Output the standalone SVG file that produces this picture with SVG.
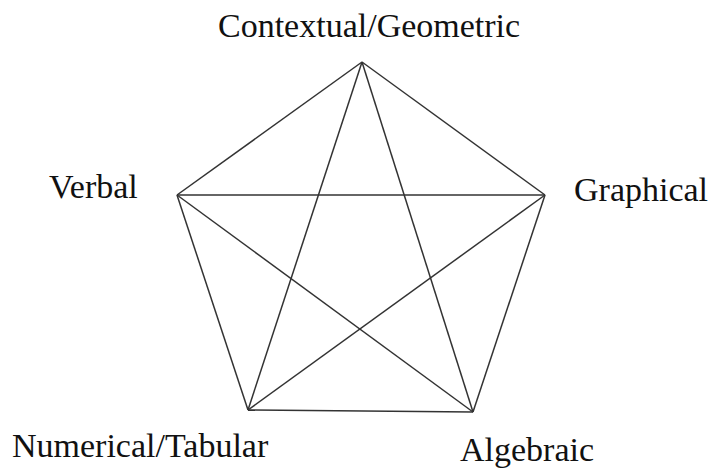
<svg xmlns="http://www.w3.org/2000/svg" width="714" height="471" viewBox="0 0 714 471">
<style>
.e{stroke:#333;stroke-width:1.5;fill:none}
.t{font-family:"Liberation Serif","Times New Roman",serif;font-size:34px;fill:#111}
</style>
<rect width="714" height="471" fill="#fff"/>
<g id="connectors">
<line class="e" x1="362" y1="62" x2="545" y2="195"/>
<line class="e" x1="545" y1="195" x2="473" y2="412"/>
<line class="e" x1="473" y1="412" x2="248" y2="410"/>
<line class="e" x1="248" y1="410" x2="177" y2="195"/>
<line class="e" x1="177" y1="195" x2="362" y2="62"/>
<line class="e" x1="362" y1="62" x2="473" y2="412"/>
<line class="e" x1="362" y1="62" x2="248" y2="410"/>
<line class="e" x1="177" y1="195" x2="545" y2="195"/>
<line class="e" x1="177" y1="195" x2="473" y2="412"/>
<line class="e" x1="545" y1="195" x2="248" y2="410"/>
</g>
<g id="node-contextual"><text class="t" x="218" y="37">Contextual/Geometric</text></g>
<g id="node-graphical"><text class="t" x="574" y="201">Graphical</text></g>
<g id="node-algebraic"><text class="t" x="460" y="461">Algebraic</text></g>
<g id="node-numerical"><text class="t" x="12" y="457">Numerical/Tabular</text></g>
<g id="node-verbal"><text class="t" x="49" y="198">Verbal</text></g>
</svg>
